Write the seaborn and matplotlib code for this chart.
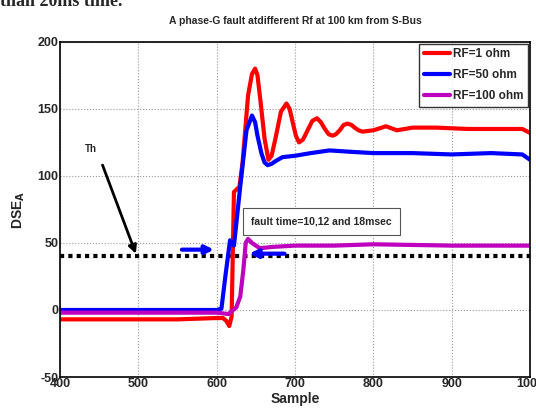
import numpy as np
import pandas as pd
import seaborn as sns
import matplotlib.pyplot as plt

# valores (amostra x DSE_A)
amostra_rf1 = [400, 450, 500, 550, 600, 608, 612, 616, 619, 622, 629, 633, 640, 645, 649, 652,
               656, 661, 666, 670, 675, 682, 689, 693, 697, 701, 705, 710, 716, 722, 728, 733,
               738, 743, 748, 752, 757, 762, 767, 772, 776, 781, 786, 800, 816, 830, 850, 880,
               920, 960, 990, 1000]
dse_rf1 = [-7, -7, -7, -7, -6, -6, -8, -12, -5, 88, 92, 110, 160, 176, 180, 175,
           155, 128, 112, 115, 128, 148, 154, 150, 140, 130, 125, 127, 134, 141, 143, 140,
           135, 131, 130, 131, 134, 138, 139, 138, 136, 134, 133, 134, 137, 134, 136, 136,
           135, 135, 135, 132]

amostra_rf50 = [400, 450, 500, 550, 600, 606, 611, 617, 622, 630, 638, 645, 649, 652, 657, 661,
                665, 670, 675, 684, 700, 720, 744, 770, 800, 850, 900, 950, 990, 1000]
dse_rf50 = [0, 0, 0, 0, 0, 1, 25, 52, 48, 92, 134, 145, 140, 130, 117, 110,
            108, 109, 111, 114, 115, 117, 119, 118, 117, 117, 116, 117, 116, 112]

amostra_rf100 = [400, 450, 500, 550, 600, 615, 625, 630, 634, 637, 640, 645, 655, 670, 700,
                 750, 800, 900, 1000]
dse_rf100 = [-2, -2, -2, -2, -2, -3, 2, 10, 30, 50, 53, 50, 46, 47, 48,
             48, 49, 48, 48]

limiar = 40
legendas = ["RF=1 ohm", "RF=50 ohm", "RF=100 ohm"]
cores = ["#ff0000", "#0000ff", "#bf00bf"]

df = pd.concat([
    pd.DataFrame({"Sample": amostra_rf1, "DSE": dse_rf1, "RF": legendas[0]}),
    pd.DataFrame({"Sample": amostra_rf50, "DSE": dse_rf50, "RF": legendas[1]}),
    pd.DataFrame({"Sample": amostra_rf100, "DSE": dse_rf100, "RF": legendas[2]}),
])

sns.set_style("white")
plt.rcParams['font.family'] = ['Liberation Sans Narrow', 'Liberation Sans', 'DejaVu Sans']
plt.rcParams['font.weight'] = 'bold'
plt.rcParams['axes.unicode_minus'] = False

fig = plt.figure(figsize=(5.36, 4.18), dpi=100)
ax = fig.add_axes([0.112, 0.098, 0.877, 0.802])

sns.lineplot(ax=ax, data=df, x="Sample", y="DSE", hue="RF", palette=cores,
             sort=False, linewidth=3, estimator=None)

# linha de limiar
ax.axhline(limiar, color="black", linestyle=(0, (1, 1)), linewidth=3, zorder=1)

ax.set_xlim(400, 1000)
ax.set_ylim(-50, 200)
ax.set_xticks(range(400, 1001, 100))
ax.set_yticks(range(-50, 201, 50))
ax.tick_params(labelsize=9, direction="in", length=3, pad=1)
for lab in ax.get_xticklabels() + ax.get_yticklabels():
    lab.set_fontweight("bold")
ax.grid(True, color="#999999", linestyle=":", linewidth=0.8)
for s in ax.spines.values():
    s.set_color("black")
    s.set_linewidth(1.2)

ax.set_title("A phase-G fault atdifferent Rf at 100 km from S-Bus", fontsize=7.5,
             fontweight="bold", pad=13)
ax.set_xlabel("Sample", fontsize=10, fontweight="bold", labelpad=1)
ax.set_ylabel(r"DSE$_\mathbf{A}$", fontsize=10, fontweight="bold", labelpad=8)

# anotacoes
ax.text(440, 120, "Th", fontsize=7, ha="center", va="center")
ax.annotate("", xy=(498, 40), xytext=(453, 110),
            arrowprops=dict(arrowstyle="-|>", color="black", lw=2, mutation_scale=12))
ax.annotate("", xy=(600, 45), xytext=(552, 45),
            arrowprops=dict(arrowstyle="-|>", color="#0000ff", lw=3, mutation_scale=12))
ax.annotate("", xy=(638, 42), xytext=(690, 42),
            arrowprops=dict(arrowstyle="-|>", color="#0000ff", lw=3, mutation_scale=12))
ax.text(644, 66, "fault time=10,12 and 18msec", fontsize=7.5, fontweight="bold", va="center",
        bbox=dict(boxstyle="square,pad=0.8", facecolor="white", edgecolor="#555555", lw=0.8))

leg = ax.legend(loc="upper right", fontsize=8.5, handlelength=2.2, labelspacing=0.75,
                frameon=True, fancybox=False, edgecolor="black", borderaxespad=0.15,
                handletextpad=0.3, borderpad=0.4)
leg.get_frame().set_linewidth(1)
for t in leg.get_texts():
    t.set_fontweight("bold")
for l in leg.get_lines():
    l.set_linewidth(3)

# texto cortado no topo da imagem original
fig.text(0.0, 0.985, "than 20ms time.", fontsize=13, family=["Liberation Serif", "DejaVu Serif"],
         ha="left", va="baseline")

plt.savefig("out.png", dpi=100)
